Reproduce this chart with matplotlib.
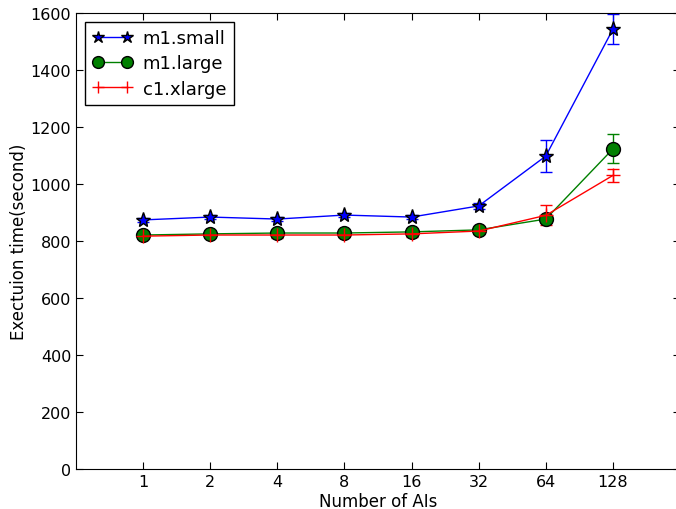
import numpy as np
import matplotlib
matplotlib.use("Agg")
import matplotlib.pyplot as plt

# x categories (number of AIs)
ais = ["1", "2", "4", "8", "16", "32", "64", "128"]

# execution time (seconds) and error per instance type
m1_small = [874, 884, 877, 891, 884, 923, 1098, 1543]
m1_small_err = [8, 8, 8, 8, 8, 10, 55, 52]
m1_large = [821, 825, 828, 828, 832, 839, 877, 1123]
m1_large_err = [6, 6, 6, 6, 6, 8, 10, 51]
c1_xlarge = [817, 821, 821, 821, 825, 835, 890, 1030]
c1_xlarge_err = [8, 8, 10, 8, 10, 10, 35, 23]

x = np.arange(1, len(ais) + 1)

fig = plt.figure(figsize=(6.76, 5.10), dpi=100)
ax = fig.add_axes([76 / 676, 40 / 510, 604 / 676, 456 / 510])

h1 = ax.errorbar(x, m1_small, yerr=m1_small_err, fmt='b-*', ms=11, mec='k',
                 capsize=4, lw=1)
h2 = ax.errorbar(x, m1_large, yerr=m1_large_err, fmt='g-o', ms=10, mec='k',
                 capsize=4, lw=1)
h3 = ax.errorbar(x, c1_xlarge, yerr=c1_xlarge_err, fmt='r-+', ms=10,
                 capsize=4, lw=1)

ax.set_xlim(0, 9)
ax.set_ylim(0, 1600)
ax.set_xticks(x)
ax.set_xticklabels(ais)
ax.set_yticks(range(0, 1601, 200))
ax.tick_params(direction='in', top=True, right=True, labelsize=11.5, length=5)
ax.set_xlabel('Number of AIs', fontsize=12, labelpad=2)
ax.set_ylabel('Exectuion time(second)', fontsize=12, labelpad=2)

leg = ax.legend([h1[0], h2[0], h3[0]], ['m1.small', 'm1.large', 'c1.xlarge'],
                loc='upper left', fontsize=13, fancybox=False, numpoints=2,
                framealpha=1, edgecolor='k', handlelength=2.2, markerscale=0.85,
                handletextpad=0.6, borderaxespad=0.5, labelspacing=0.4)

fig.savefig('out.png', dpi=100)
